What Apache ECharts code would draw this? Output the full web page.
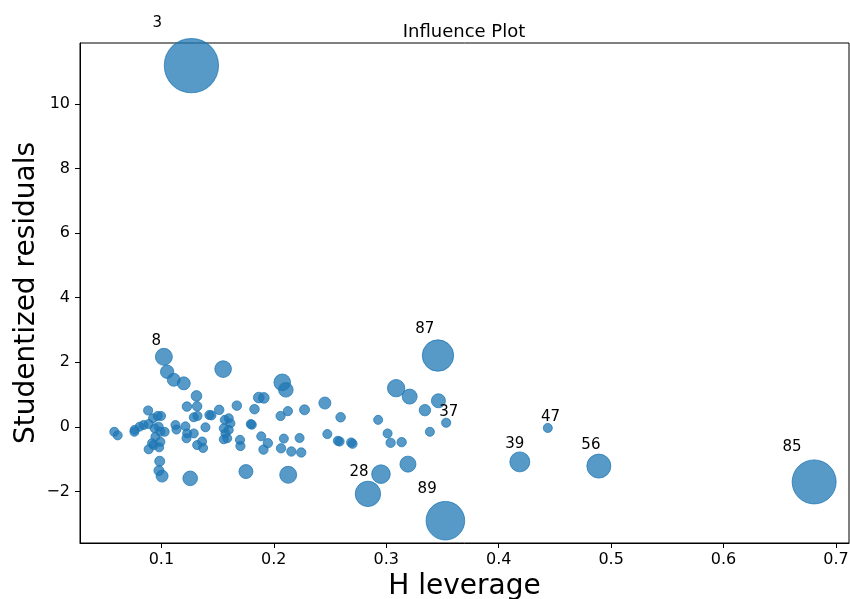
<!DOCTYPE html>
<html>
<head>
<meta charset="utf-8">
<script src="https://cdn.jsdelivr.net/npm/echarts@6/dist/echarts.min.js"></script>
<style>
  html, body { margin: 0; padding: 0; background: #fff; }
  #chart { width: 850px; height: 599px; }
</style>
</head>
<body>
<div id="chart"></div>
<script>
// H leverage of each observation (labelled ones first)
const leverage = [
  0.1267, 0.1022, 0.3460, 0.3533, 0.4437, 0.4188, 0.4891, 0.6806, 0.2837, 0.3526,
  0.1051, 0.1110, 0.1199, 0.1549, 0.1312, 0.1227, 0.1318, 0.0882, 0.1514, 0.1671,
  0.1427, 0.1445, 0.1288, 0.1321, 0.1392, 0.1125, 0.1134, 0.1214, 0.1229, 0.1223,
  0.1288, 0.1318, 0.1362, 0.1371, 0.1564, 0.1599, 0.1614, 0.1555, 0.1570, 0.1599,
  0.1585, 0.1555, 0.1699, 0.1703, 0.1795, 0.1804, 0.1828, 0.1866, 0.1911, 0.2075,
  0.2107, 0.2060, 0.2125, 0.2273, 0.2454, 0.2594, 0.1888, 0.1947, 0.1908, 0.2089,
  0.2064, 0.2156, 0.2229, 0.2244, 0.2476, 0.2570, 0.2585, 0.2688, 0.2700, 0.2928,
  0.3012, 0.3039, 0.3137, 0.3088, 0.3208, 0.3464, 0.3344, 0.3388, 0.3193, 0.2953,
  0.2128, 0.1752, 0.1256, 0.1006, 0.0978, 0.0985, 0.0887, 0.0931, 0.0980, 0.0917,
  0.0947, 0.0991, 0.0581, 0.0611, 0.0762, 0.0807, 0.0842, 0.0887, 0.0926, 0.0967,
  0.0997, 0.0940, 0.0976, 0.0991, 0.1029, 0.0760
]

// studentized residuals
const residuals = [
  11.18, 2.17, 2.21, 0.13, -0.03, -1.08, -1.21, -1.70, -2.07, -2.90,
  1.71, 1.46, 1.35, 1.79, 0.96, 0.63, 0.64, 0.51, 0.53, 0.66,
  0.37, 0.36, 0.30, 0.34, -0.01, 0.06, -0.08, 0.02, -0.20, -0.35,
  -0.20, -0.56, -0.45, -0.65, 0.22, 0.27, 0.11, -0.04, -0.20, -0.09,
  -0.35, -0.38, -0.40, -0.59, 0.09, 0.07, 0.55, 0.91, 0.90, 1.38,
  1.15, 0.34, 0.49, 0.53, 0.74, 0.30, -0.29, -0.50, -0.70, -0.36,
  -0.66, -0.76, -0.34, -0.79, -0.22, -0.43, -0.45, -0.48, -0.52, 0.22,
  -0.20, -0.49, -0.47, 1.20, 0.94, 0.81, 0.52, -0.15, -1.15, -1.46,
  -1.48, -1.38, -1.59, -1.52, -1.35, -1.06, -0.69, -0.56, -0.63, -0.50,
  -0.30, -0.46, -0.15, -0.26, -0.09, 0.01, 0.06, 0.09, 0.27, 0.34,
  0.34, -0.04, 0.01, -0.15, -0.15, -0.15
]

// relative Cook's distance (0 = smallest, 1 = largest)
const influence = [
  1.0, 0.072, 0.316, 0.001, 0.0, 0.111, 0.173, 0.648, 0.197, 0.492,
  0.034, 0.030, 0.030, 0.068, 0.011, 0.003, 0.003, 0.001, 0.003, 0.003,
  0.001, 0.001, 0, 0, 0, 0, 0, 0, 0, 0,
  0, 0, 0, 0, 0, 0, 0, 0, 0, 0,
  0, 0, 0.001, 0.001, 0, 0, 0.003, 0.011, 0.011, 0.068,
  0.046, 0.001, 0.001, 0.006, 0.022, 0.003, 0, 0.002, 0.002, 0,
  0.002, 0.002, 0, 0.002, 0, 0.001, 0.001, 0.001, 0.001, 0,
  0, 0.002, 0.002, 0.077, 0.050, 0.040, 0.017, 0, 0.061, 0.092,
  0.072, 0.040, 0.046, 0.022, 0.006, 0.006, 0.001, 0, 0, 0,
  0, 0, 0, 0, 0, 0, 0, 0, 0, 0,
  0, 0, 0, 0, 0, 0
]

// observation ids shown for the first points
const pointLabels = ['3', '8', '87', '37', '47', '39', '56', '85', '28', '89']

const xTicks = [0.1, 0.2, 0.3, 0.4, 0.5, 0.6, 0.7]
const yTicks = [-2, 0, 2, 4, 6, 8, 10]

const font = 'DejaVu Sans'

// marker diameter in px, area linear in influence (like statsmodels)
const markerSize = (c) => 1.13 * Math.sqrt(64 + c * 2240)

const points = leverage.map((x, i) => {
  const d = markerSize(influence[i])
  const r = d / 2
  const item = {
    value: [x, residuals[i], influence[i]],
    symbolSize: d
  }
  if (i < pointLabels.length) {
    item.label = {
      show: true,
      formatter: pointLabels[i],
      position: [-0.414 * r, -0.414 * r + 4],
      align: 'left',
      verticalAlign: 'bottom',
      fontSize: 15,
      fontFamily: font,
      color: '#000'
    }
  }
  return item
})

const fmtMinus = (v) => (v < 0 ? '\u2212' + Math.abs(v) : String(v))

const chart = echarts.init(document.getElementById('chart'))
chart.setOption({
  animation: false,
  backgroundColor: '#fff',
  title: {
    text: 'Influence Plot',
    left: 464,
    top: 23,
    textAlign: 'center',
    padding: 0,
    textStyle: { fontFamily: font, fontSize: 18, fontWeight: 'normal', color: '#000' }
  },
  grid: {
    left: 80,
    right: 1,
    top: 43,
    bottom: 56,
    outerBoundsMode: 'none',
    containLabel: false,
    show: true,
    borderColor: '#000',
    borderWidth: 1
  },
  xAxis: {
    type: 'value',
    min: 0.0276,
    max: 0.7116,
    name: 'H leverage',
    nameLocation: 'middle',
    nameGap: 30,
    nameMoveOverlap: false,
    nameTextStyle: { fontFamily: font, fontSize: 28, color: '#000' },
    axisLine: { show: true, onZero: false, lineStyle: { color: '#000' } },
    axisTick: { show: true, inside: false, length: 5, customValues: xTicks, lineStyle: { color: '#000' } },
    axisLabel: {
      customValues: xTicks,
      margin: 9,
      fontFamily: font,
      fontSize: 16,
      color: '#000',
      formatter: (v) => v.toFixed(1)
    },
    splitLine: { show: false }
  },
  yAxis: {
    type: 'value',
    min: -3.59,
    max: 11.88,
    name: 'Studentized residuals',
    nameLocation: 'middle',
    nameGap: 39,
    nameMoveOverlap: false,
    nameTextStyle: { fontFamily: font, fontSize: 28, color: '#000' },
    axisLine: { show: true, onZero: false, lineStyle: { color: '#000' } },
    axisTick: { show: true, inside: false, length: 5, customValues: yTicks, lineStyle: { color: '#000' } },
    axisLabel: {
      customValues: yTicks,
      margin: 10,
      fontFamily: font,
      fontSize: 16,
      color: '#000',
      formatter: fmtMinus
    },
    splitLine: { show: false }
  },
  series: [
    {
      type: 'scatter',
      data: points,
      itemStyle: {
        color: 'rgba(31,119,180,0.75)',
        borderColor: 'rgba(31,119,180,0.75)',
        borderWidth: 1,
        opacity: 1
      },
      emphasis: { disabled: true },
      clip: true
    }
  ]
})
</script>
</body>
</html>
